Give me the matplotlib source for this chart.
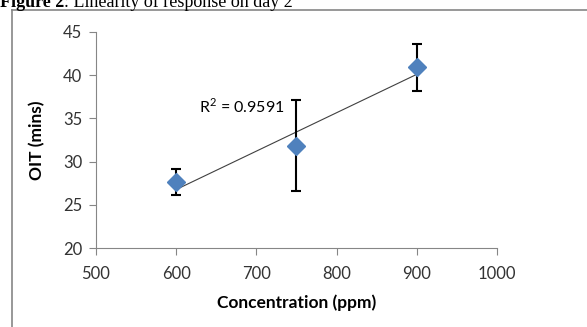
import numpy as np
import matplotlib.pyplot as plt
from matplotlib.lines import Line2D

conc = [600, 750, 900]
oit = [27.6, 31.8, 40.9]
err_low = [1.4, 5.2, 2.8]
err_high = [1.5, 5.3, 2.7]
r2_label = "R$^2$ = 0.9591"
x_ticks = [500, 600, 700, 800, 900, 1000]
y_ticks = [20, 25, 30, 35, 40, 45]

plt.rcParams["font.family"] = ["Lato", "DejaVu Sans"]
plt.rcParams["mathtext.fontset"] = "custom"
plt.rcParams["mathtext.rm"] = "Lato"

fig = plt.figure(figsize=(5.87, 3.27), dpi=100)
ax = fig.add_axes([0.1635, 0.2407, 0.6832, 0.6623])

# linear trendline
a, b = np.polyfit(conc, oit, 1)
xs = np.array([conc[0], conc[-1]])
ax.plot(xs, a * xs + b, color="#404040", lw=0.8, zorder=2)

ax.errorbar(conc, oit, yerr=[err_low, err_high], fmt="none", ecolor="black",
            elinewidth=1.5, capsize=3.5, capthick=1.5, zorder=3)
ax.plot(conc, oit, linestyle="none", marker="D", markersize=9,
        color="#4F81BD", zorder=4)

ax.text(629, 36.4, r2_label, fontsize=11.5, ha="left", va="center")

ax.set_xlim(500, 1000)
ax.set_ylim(20, 45)
ax.set_xticks(x_ticks)
ax.set_yticks(y_ticks)
ax.tick_params(labelsize=12, colors="#333333", length=5, width=0.8)
ax.tick_params(axis="x", pad=8)
ax.tick_params(axis="y", pad=5)
ax.tick_params(axis="both", color="#868686")
for s in ["top", "right"]:
    ax.spines[s].set_visible(False)
for s in ["left", "bottom"]:
    ax.spines[s].set_color("#868686")
    ax.spines[s].set_linewidth(0.8)

ax.set_xlabel("Concentration (ppm)", fontsize=12.5, fontweight="bold", labelpad=9)
ax.set_ylabel("OIT (mins)", fontsize=12.5, fontweight="bold", labelpad=13)

# chart frame, cut off at right and bottom
fig.add_artist(Line2D([12 / 587, 12 / 587], [0, 1 - 10 / 327],
                      transform=fig.transFigure, color="#868686", lw=1.2))
fig.add_artist(Line2D([12 / 587, 1], [1 - 10 / 327, 1 - 10 / 327],
                      transform=fig.transFigure, color="#868686", lw=1.2))

# caption, partly cut off at the top as in the source
t1 = fig.text(0.0, 1 - 7 / 327, "Figure 2", family="Liberation Serif",
              fontweight="bold", fontsize=13, va="baseline", ha="left")
fig.canvas.draw()
bb = t1.get_window_extent()
fig.text(bb.x1 / fig.bbox.width, 1 - 7 / 327, ": Linearity of response on day 2",
         family="Liberation Serif", fontsize=13, va="baseline", ha="left")

fig.savefig("out.png", dpi=100)
